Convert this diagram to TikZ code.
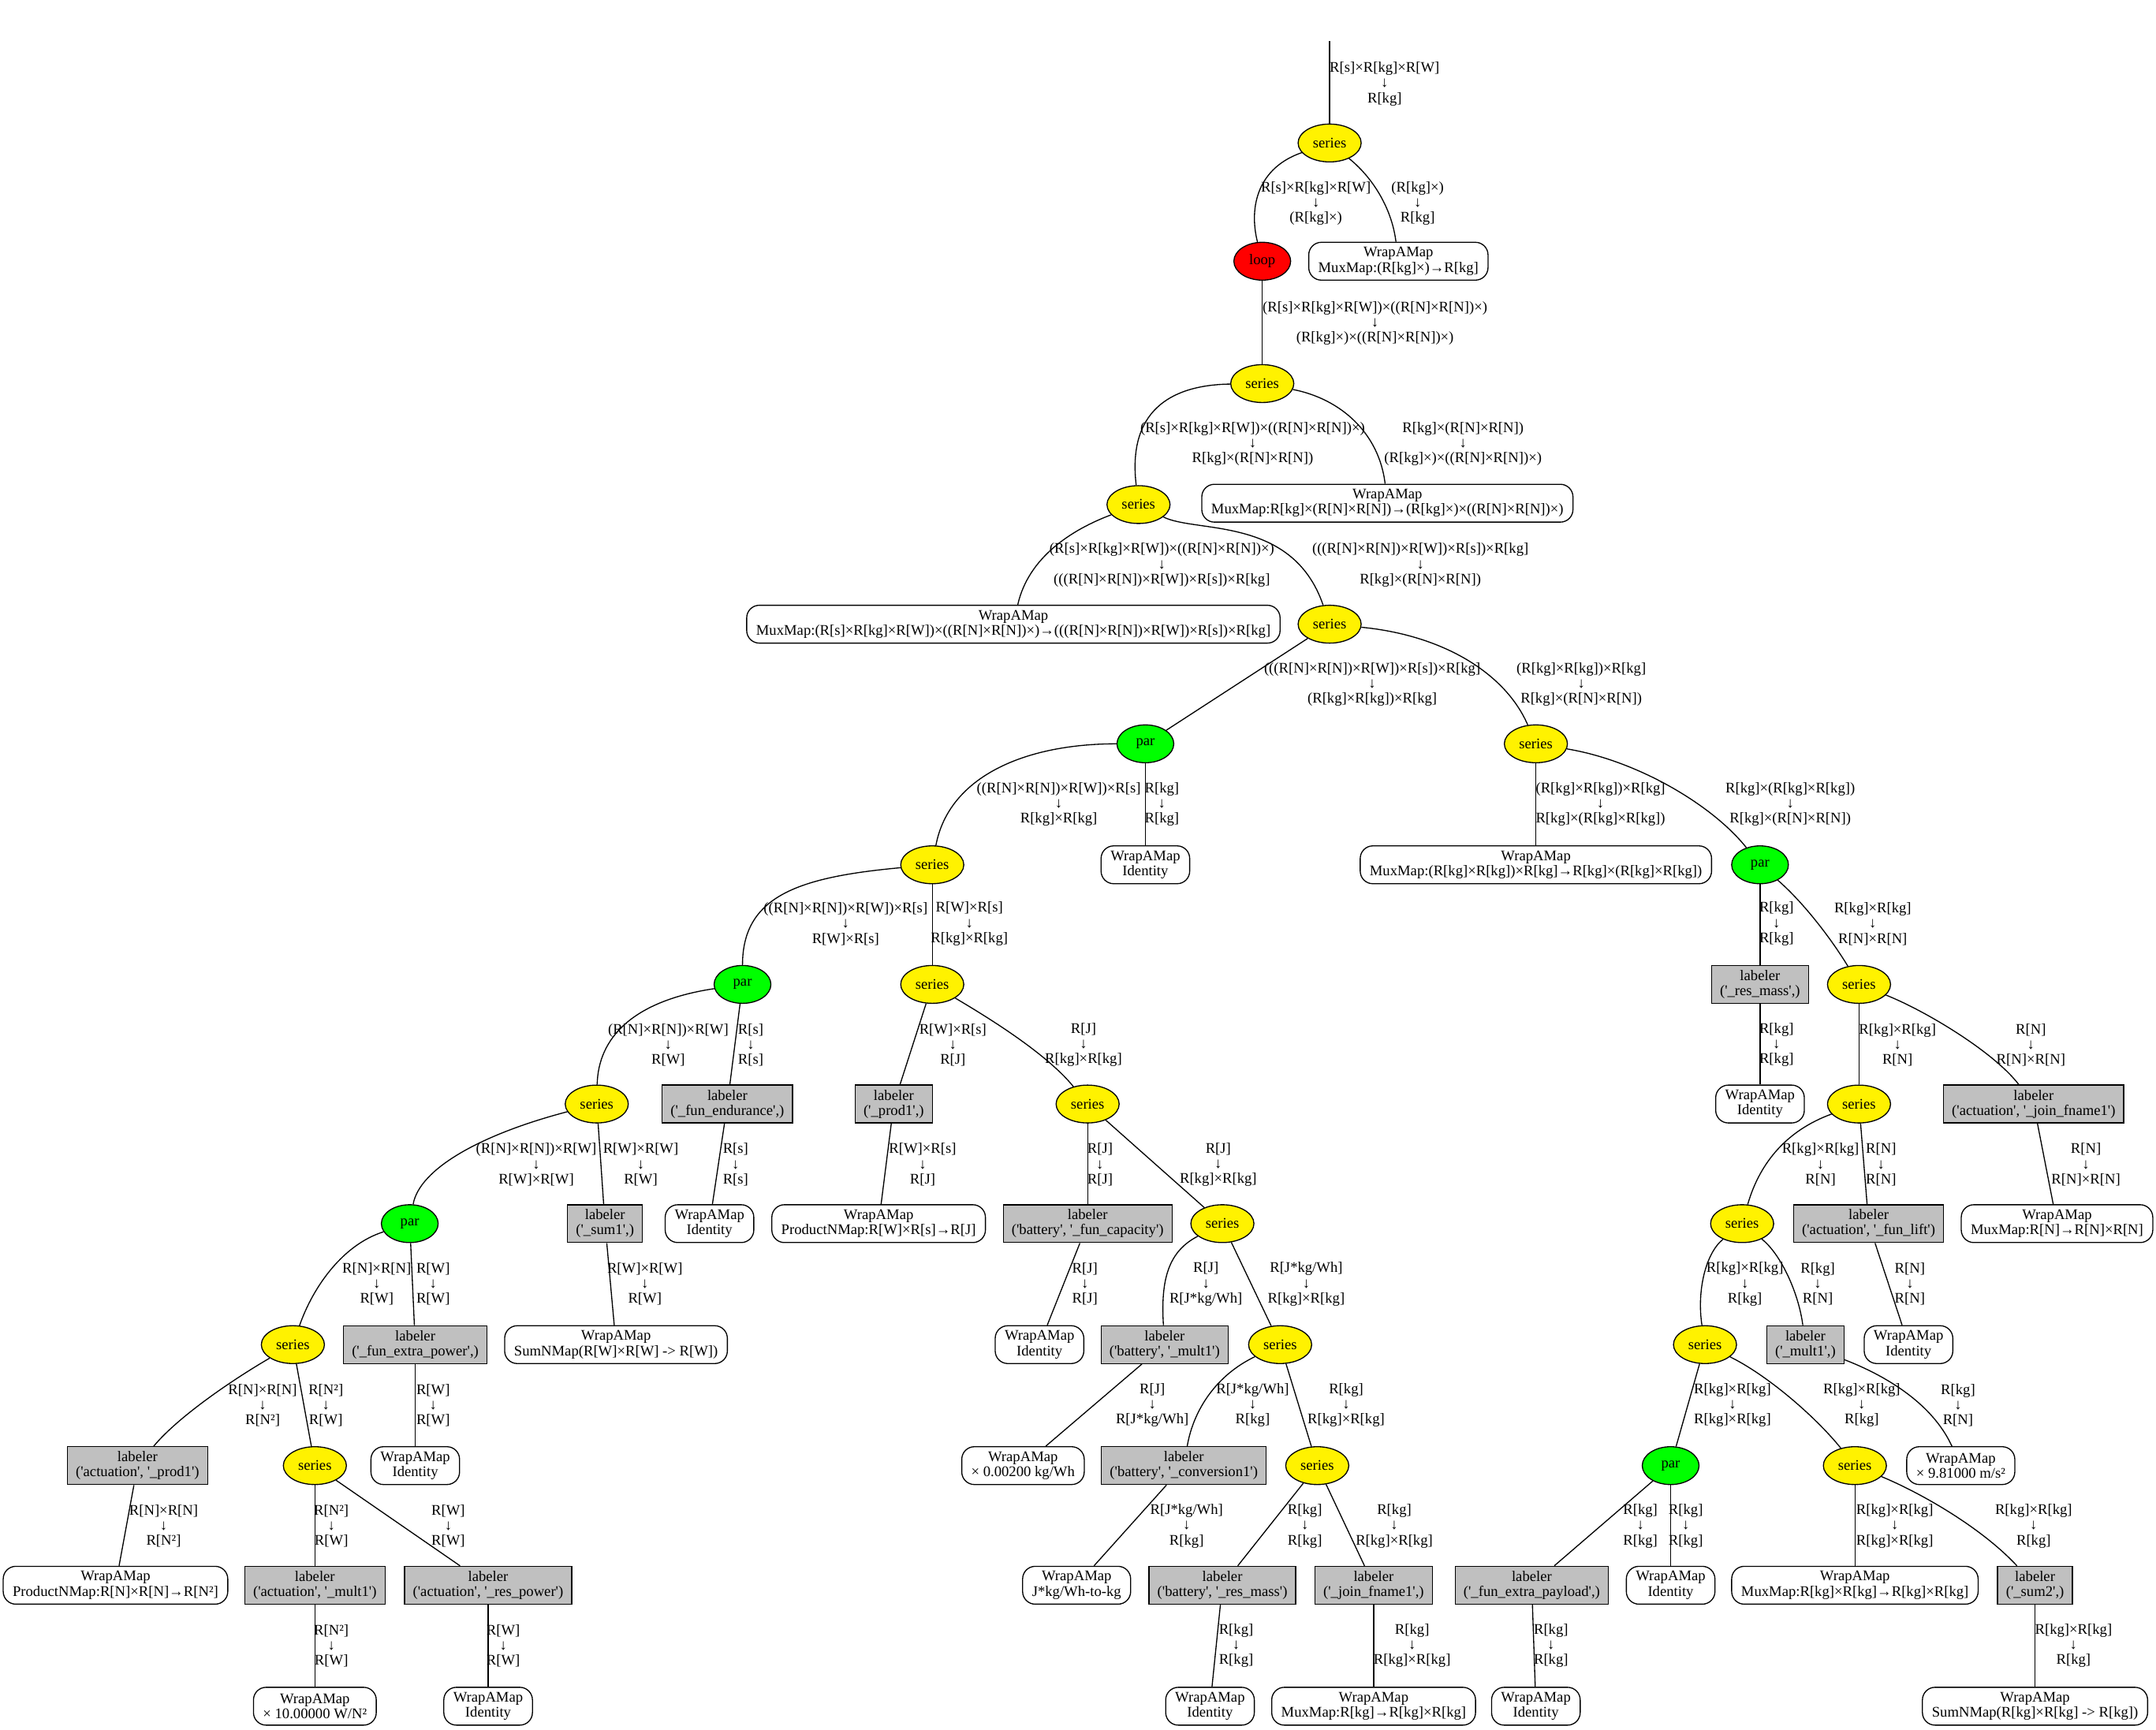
\documentclass[tikz,border=0pt]{standalone}
\usepackage{fontspec}
\setmainfont{Liberation Serif}[Ligatures=TeXOff]
\usetikzlibrary{shapes.geometric}
\definecolor{lgr}{RGB}{192,192,192}
\newcommand\xl[2]{#1\\↓\\#2}
\newcommand\dfont{\fontsize{14}{14.4}\selectfont}
\begin{document}
\begin{tikzpicture}[x=1.308pt,y=-1.308pt,
  base/.style={draw, line width=1pt, font=\dfont, align=center, inner sep=0pt},
  ser/.style={base, ellipse, fill=yellow, minimum width=60pt, minimum height=36pt},
  parn/.style={base, ellipse, fill=green, minimum width=54pt, minimum height=36pt},
  loopn/.style={base, ellipse, fill=red, minimum width=54pt, minimum height=36pt},
  lab/.style={base, rectangle, fill=lgr, inner xsep=8pt, minimum height=36pt},
  wrap/.style={base, rectangle, rounded corners=12pt, fill=white, inner xsep=9pt, minimum height=36pt},
  elab/.style={font=\dfont, align=center, inner sep=0pt},
  edge/.style={line width=1pt}]
\fill[white] (0,0) rectangle (1568,1258);
% ---------------- nodes ----------------
\node[ser] (s1) at (967,104) {series};
\node[loopn] (lp) at (918,190) {loop};
\node[wrap] (B1) at (1017,190) {WrapAMap\\MuxMap:(R[kg]×)→R[kg]};
\node[ser] (s2) at (918,279) {series};
\node[ser] (s3) at (828,367) {series};
\node[wrap] (B2) at (1009,366) {WrapAMap\\MuxMap:R[kg]×(R[N]×R[N])→(R[kg]×)×((R[N]×R[N])×)};
\node[wrap] (B3) at (737,454) {WrapAMap\\MuxMap:(R[s]×R[kg]×R[W])×((R[N]×R[N])×)→(((R[N]×R[N])×R[W])×R[s])×R[kg]};
\node[ser] (s4) at (967,454) {series};
\node[parn] (p1) at (833,541) {par};
\node[ser] (s5) at (1117,541) {series};
\node[ser] (s6) at (678,629) {series};
\node[wrap] (B4) at (833,629) {WrapAMap\\Identity};
\node[wrap] (B5) at (1117,629) {WrapAMap\\MuxMap:(R[kg]×R[kg])×R[kg]→R[kg]×(R[kg]×R[kg])};
\node[parn] (p2) at (1280,629) {par};
\node[parn] (p3) at (540,716) {par};
\node[ser] (s7) at (678,716) {series};
\node[lab] (L13) at (1280,716) {labeler\\('\_res\_mass',)};
\node[ser] (s15) at (1352,716) {series};
\node[ser] (s8) at (434,803) {series};
\node[lab] (L1) at (529,803) {labeler\\('\_fun\_endurance',)};
\node[lab] (L2) at (650,803) {labeler\\('\_prod1',)};
\node[ser] (s9) at (791,803) {series};
\node[wrap] (B18) at (1280,803) {WrapAMap\\Identity};
\node[ser] (s16) at (1352,803) {series};
\node[lab] (L14) at (1479,803) {labeler\\('actuation', '\_join\_fname1')};
\node[parn] (p4) at (298,890) {par};
\node[lab] (L3) at (440,890) {labeler\\('\_sum1',)};
\node[wrap] (B6) at (516,890) {WrapAMap\\Identity};
\node[wrap] (B7) at (639,890) {WrapAMap\\ProductNMap:R[W]×R[s]→R[J]};
\node[lab] (L4) at (791,890) {labeler\\('battery', '\_fun\_capacity')};
\node[ser] (s10) at (889,890) {series};
\node[ser] (s17) at (1267,890) {series};
\node[lab] (L15) at (1359,890) {labeler\\('actuation', '\_fun\_lift')};
\node[wrap] (B19) at (1496,890) {WrapAMap\\MuxMap:R[N]→R[N]×R[N]};
\node[ser] (s11) at (213,978) {series};
\node[lab] (L5) at (302,978) {labeler\\('\_fun\_extra\_power',)};
\node[wrap] (B8) at (448,978) {WrapAMap\\SumNMap(R[W]×R[W] -> R[W])};
\node[wrap] (B9) at (756,978) {WrapAMap\\Identity};
\node[lab] (L6) at (847,978) {labeler\\('battery', '\_mult1')};
\node[ser] (s12) at (931,978) {series};
\node[ser] (s18) at (1240,978) {series};
\node[lab] (L16) at (1313,978) {labeler\\('\_mult1',)};
\node[wrap] (B20) at (1388,978) {WrapAMap\\Identity};
\node[lab] (L7) at (100,1066) {labeler\\('actuation', '\_prod1')};
\node[ser] (s13) at (229,1066) {series};
\node[wrap] (B10) at (302,1066) {WrapAMap\\Identity};
\node[wrap] (B11) at (744,1066) {WrapAMap\\× 0.00200 kg/Wh};
\node[lab] (L8) at (861,1066) {labeler\\('battery', '\_conversion1')};
\node[ser] (s14) at (958,1066) {series};
\node[parn] (p5) at (1215,1066) {par};
\node[ser] (s19) at (1349,1066) {series};
\node[wrap] (B21) at (1426,1066) {WrapAMap\\× 9.81000 m/s²};
\node[wrap] (B12) at (84,1153) {WrapAMap\\ProductNMap:R[N]×R[N]→R[N²]};
\node[lab] (L9) at (229,1153) {labeler\\('actuation', '\_mult1')};
\node[lab] (L10) at (355,1153) {labeler\\('actuation', '\_res\_power')};
\node[wrap] (B13) at (783,1153) {WrapAMap\\J*kg/Wh-to-kg};
\node[lab] (L11) at (889,1153) {labeler\\('battery', '\_res\_mass')};
\node[lab] (L12) at (999,1153) {labeler\\('\_join\_fname1',)};
\node[lab] (L17) at (1114,1153) {labeler\\('\_fun\_extra\_payload',)};
\node[wrap] (B22) at (1215,1153) {WrapAMap\\Identity};
\node[wrap] (B23) at (1349,1153) {WrapAMap\\MuxMap:R[kg]×R[kg]→R[kg]×R[kg]};
\node[lab] (L18) at (1480,1153) {labeler\\('\_sum2',)};
\node[wrap] (B14) at (229,1241) {WrapAMap\\× 10.00000 W/N²};
\node[wrap] (B15) at (355,1241) {WrapAMap\\Identity};
\node[wrap] (B16) at (880,1241) {WrapAMap\\Identity};
\node[wrap] (B17) at (999,1241) {WrapAMap\\MuxMap:R[kg]→R[kg]×R[kg]};
\node[wrap] (B24) at (1117,1241) {WrapAMap\\Identity};
\node[wrap] (B25) at (1480,1241) {WrapAMap\\SumNMap(R[kg]×R[kg] -> R[kg])};
\coordinate (top) at (967,30);
% ---------------- edges ----------------
\draw[edge] (top) -- (s1);
\draw[edge] (s1) .. controls (915,122) and (908,150) .. (lp);
\draw[edge] (s1) .. controls (997,128) and (1012,150) .. (B1);
\draw[edge] (lp) -- (s2);
\draw[edge] (s2) .. controls (850,280) and (820,300) .. (s3);
\draw[edge] (s2) .. controls (975,290) and (1003,315) .. (B2);
\draw[edge] (s3) .. controls (780,385) and (748,405) .. (B3);
\draw[edge] (s3) .. controls (870,388) and (940,375) .. (s4);
\draw[edge] (s4) -- (p1);
\draw[edge] (s4) .. controls (1050,462) and (1095,490) .. (s5);
\draw[edge] (p1) .. controls (745,541) and (690,565) .. (s6);
\draw[edge] (p1) -- (B4);
\draw[edge] (s5) -- (B5);
\draw[edge] (s5) .. controls (1190,553) and (1245,585) .. (p2);
\draw[edge] (s6) .. controls (580,638) and (540,652) .. (p3);
\draw[edge] (s6) -- (s7);
\draw[edge] (p3) .. controls (460,728) and (435,755) .. (s8);
\draw[edge] (p3) -- (L1);
\draw[edge] (s7) -- (L2);
\draw[edge] (s7) .. controls (715,738) and (760,765) .. (s9);
\draw[edge] (p2) -- (L13);
\draw[edge] (p2) .. controls (1310,655) and (1330,680) .. (s15);
\draw[edge] (s8) .. controls (350,825) and (305,850) .. (p4);
\draw[edge] (s8) -- (L3);
\draw[edge] (L1) -- (B6);
\draw[edge] (L2) -- (B7);
\draw[edge] (s9) -- (L4);
\draw[edge] (s9) -- (s10);
\draw[edge] (L13) -- (B18);
\draw[edge] (s15) -- (s16);
\draw[edge] (s15) .. controls (1400,735) and (1450,765) .. (L14);
\draw[edge] (p4) .. controls (250,905) and (228,935) .. (s11);
\draw[edge] (p4) -- (L5);
\draw[edge] (L3) -- (B8);
\draw[edge] (L4) -- (B9);
\draw[edge] (s10) .. controls (850,910) and (844,930) .. (L6);
\draw[edge] (s10) -- (s12);
\draw[edge] (s16) .. controls (1300,822) and (1280,845) .. (s17);
\draw[edge] (s16) -- (L15);
\draw[edge] (L14) -- (B19);
\draw[edge] (s11) .. controls (170,1003) and (130,1030) .. (L7);
\draw[edge] (s11) -- (s13);
\draw[edge] (L5) -- (B10);
\draw[edge] (L6) -- (B11);
\draw[edge] (s12) .. controls (885,1000) and (868,1025) .. (L8);
\draw[edge] (s12) -- (s14);
\draw[edge] (s17) .. controls (1240,912) and (1234,940) .. (s18);
\draw[edge] (s17) .. controls (1295,912) and (1308,940) .. (L16);
\draw[edge] (L15) -- (B20);
\draw[edge] (s18) -- (p5);
\draw[edge] (s18) .. controls (1285,1000) and (1320,1030) .. (s19);
\draw[edge] (L16) .. controls (1370,1000) and (1405,1020) .. (B21);
\draw[edge] (L7) -- (B12);
\draw[edge] (s13) -- (L9);
\draw[edge] (s13) -- (L10);
\draw[edge] (L8) -- (B13);
\draw[edge] (s14) -- (L11);
\draw[edge] (s14) -- (L12);
\draw[edge] (p5) -- (L17);
\draw[edge] (p5) -- (B22);
\draw[edge] (s19) -- (B23);
\draw[edge] (s19) .. controls (1395,1085) and (1440,1110) .. (L18);
\draw[edge] (L9) -- (B14);
\draw[edge] (L10) -- (B15);
\draw[edge] (L11) -- (B16);
\draw[edge] (L12) -- (B17);
\draw[edge] (L17) -- (B24);
\draw[edge] (L18) -- (B25);
% ---------------- edge labels ----------------
\node[elab] (e0) at (1007,61) {\xl{R[s]×R[kg]×R[W]}{R[kg]}};
\node[elab] (e1) at (957,148) {\xl{R[s]×R[kg]×R[W]}{(R[kg]×)}};
\node[elab] (e2) at (1031,148) {\xl{(R[kg]×)}{R[kg]}};
\node[elab] (e3) at (1000,235) {\xl{(R[s]×R[kg]×R[W])×((R[N]×R[N])×)}{(R[kg]×)×((R[N]×R[N])×)}};
\node[elab] (e4) at (911,323) {\xl{(R[s]×R[kg]×R[W])×((R[N]×R[N])×)}{R[kg]×(R[N]×R[N])}};
\node[elab] (e5) at (1064,323) {\xl{R[kg]×(R[N]×R[N])}{(R[kg]×)×((R[N]×R[N])×)}};
\node[elab] (e6) at (845,411) {\xl{(R[s]×R[kg]×R[W])×((R[N]×R[N])×)}{(((R[N]×R[N])×R[W])×R[s])×R[kg]}};
\node[elab] (e7) at (1033,411) {\xl{(((R[N]×R[N])×R[W])×R[s])×R[kg]}{R[kg]×(R[N]×R[N])}};
\node[elab] (e8) at (998,498) {\xl{(((R[N]×R[N])×R[W])×R[s])×R[kg]}{(R[kg]×R[kg])×R[kg]}};
\node[elab] (e9) at (1150,498) {\xl{(R[kg]×R[kg])×R[kg]}{R[kg]×(R[N]×R[N])}};
\node[elab] (e10) at (770,585) {\xl{((R[N]×R[N])×R[W])×R[s]}{R[kg]×R[kg]}};
\node[elab] (e11) at (845,585) {\xl{R[kg]}{R[kg]}};
\node[elab] (e12) at (1164,585) {\xl{(R[kg]×R[kg])×R[kg]}{R[kg]×(R[kg]×R[kg])}};
\node[elab] (e13) at (1302,585) {\xl{R[kg]×(R[kg]×R[kg])}{R[kg]×(R[N]×R[N])}};
\node[elab] (e14) at (615,672) {\xl{((R[N]×R[N])×R[W])×R[s]}{R[W]×R[s]}};
\node[elab] (e15) at (705,672) {\xl{R[W]×R[s]}{R[kg]×R[kg]}};
\node[elab] (e16) at (1292,672) {\xl{R[kg]}{R[kg]}};
\node[elab] (e17) at (1362,672) {\xl{R[kg]×R[kg]}{R[N]×R[N]}};
\node[elab] (e18) at (486,760) {\xl{(R[N]×R[N])×R[W]}{R[W]}};
\node[elab] (e19) at (546,760) {\xl{R[s]}{R[s]}};
\node[elab] (e20) at (693,760) {\xl{R[W]×R[s]}{R[J]}};
\node[elab] (e21) at (788,760) {\xl{R[J]}{R[kg]×R[kg]}};
\node[elab] (e22) at (1292,760) {\xl{R[kg]}{R[kg]}};
\node[elab] (e23) at (1380,760) {\xl{R[kg]×R[kg]}{R[N]}};
\node[elab] (e24) at (1477,760) {\xl{R[N]}{R[N]×R[N]}};
\node[elab] (e25) at (390,847) {\xl{(R[N]×R[N])×R[W]}{R[W]×R[W]}};
\node[elab] (e26) at (466,847) {\xl{R[W]×R[W]}{R[W]}};
\node[elab] (e27) at (535,847) {\xl{R[s]}{R[s]}};
\node[elab] (e28) at (671,847) {\xl{R[W]×R[s]}{R[J]}};
\node[elab] (e29) at (800,847) {\xl{R[J]}{R[J]}};
\node[elab] (e30) at (886,847) {\xl{R[J]}{R[kg]×R[kg]}};
\node[elab] (e31) at (1324,847) {\xl{R[kg]×R[kg]}{R[N]}};
\node[elab] (e32) at (1368,847) {\xl{R[N]}{R[N]}};
\node[elab] (e33) at (1517,847) {\xl{R[N]}{R[N]×R[N]}};
\node[elab] (e34) at (274,934) {\xl{R[N]×R[N]}{R[W]}};
\node[elab] (e35) at (315,934) {\xl{R[W]}{R[W]}};
\node[elab] (e36) at (469,934) {\xl{R[W]×R[W]}{R[W]}};
\node[elab] (e37) at (789,934) {\xl{R[J]}{R[J]}};
\node[elab] (e38) at (877,934) {\xl{R[J]}{R[J*kg/Wh]}};
\node[elab] (e39) at (950,934) {\xl{R[J*kg/Wh]}{R[kg]×R[kg]}};
\node[elab] (e40) at (1269,934) {\xl{R[kg]×R[kg]}{R[kg]}};
\node[elab] (e41) at (1322,934) {\xl{R[kg]}{R[N]}};
\node[elab] (e42) at (1389,934) {\xl{R[N]}{R[N]}};
\node[elab] (e43) at (191,1022) {\xl{R[N]×R[N]}{R[N²]}};
\node[elab] (e44) at (237,1022) {\xl{R[N²]}{R[W]}};
\node[elab] (e45) at (315,1022) {\xl{R[W]}{R[W]}};
\node[elab] (e46) at (838,1022) {\xl{R[J]}{R[J*kg/Wh]}};
\node[elab] (e47) at (911,1022) {\xl{R[J*kg/Wh]}{R[kg]}};
\node[elab] (e48) at (979,1022) {\xl{R[kg]}{R[kg]×R[kg]}};
\node[elab] (e49) at (1260,1022) {\xl{R[kg]×R[kg]}{R[kg]×R[kg]}};
\node[elab] (e50) at (1354,1022) {\xl{R[kg]×R[kg]}{R[kg]}};
\node[elab] (e51) at (1424,1022) {\xl{R[kg]}{R[N]}};
\node[elab] (e52) at (119,1110) {\xl{R[N]×R[N]}{R[N²]}};
\node[elab] (e53) at (241,1110) {\xl{R[N²]}{R[W]}};
\node[elab] (e54) at (326,1110) {\xl{R[W]}{R[W]}};
\node[elab] (e55) at (863,1110) {\xl{R[J*kg/Wh]}{R[kg]}};
\node[elab] (e56) at (949,1110) {\xl{R[kg]}{R[kg]}};
\node[elab] (e57) at (1014,1110) {\xl{R[kg]}{R[kg]×R[kg]}};
\node[elab] (e58) at (1193,1110) {\xl{R[kg]}{R[kg]}};
\node[elab] (e59) at (1226,1110) {\xl{R[kg]}{R[kg]}};
\node[elab] (e60) at (1378,1110) {\xl{R[kg]×R[kg]}{R[kg]×R[kg]}};
\node[elab] (e61) at (1479,1110) {\xl{R[kg]×R[kg]}{R[kg]}};
\node[elab] (e62) at (241,1197) {\xl{R[N²]}{R[W]}};
\node[elab] (e63) at (366,1197) {\xl{R[W]}{R[W]}};
\node[elab] (e64) at (899,1197) {\xl{R[kg]}{R[kg]}};
\node[elab] (e65) at (1027,1197) {\xl{R[kg]}{R[kg]×R[kg]}};
\node[elab] (e66) at (1128,1197) {\xl{R[kg]}{R[kg]}};
\node[elab] (e67) at (1508,1197) {\xl{R[kg]×R[kg]}{R[kg]}};
\end{tikzpicture}
\end{document}
